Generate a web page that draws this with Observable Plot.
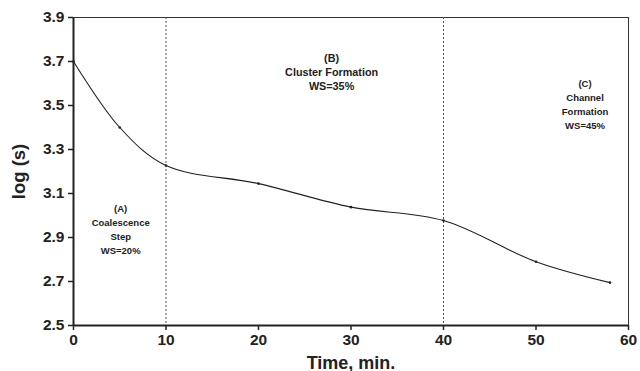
<!DOCTYPE html>
<html><head><meta charset="utf-8">
<script src="https://cdn.jsdelivr.net/npm/d3@7"></script>
<script src="https://cdn.jsdelivr.net/npm/@observablehq/plot@0.6"></script>
<style>body{margin:0;background:#fff} svg{display:block}</style>
</head><body><div id="chart"></div>
<script>
const times = [0, 5, 10, 20, 30, 40, 50, 58];
const logS = [3.70, 3.40, 3.227, 3.145, 3.038, 2.977, 2.79, 2.695];
const phaseBoundaries = [10, 40];
const xTicks = [0, 10, 20, 30, 40, 50, 60];
const yTicks = [2.5, 2.7, 2.9, 3.1, 3.3, 3.5, 3.7, 3.9];
const stageLabels = ["(A)\nCoalescence\nStep\nWS=20%", "(B)\nCluster Formation\nWS=35%", "(C)\nChannel\nFormation\nWS=45%"];
const stageTime = [5.1, 27.9, 55.3];
const stageLogS = [2.94, 3.655, 3.51];

const data = times.map((t, i) => ({t, v: logS[i]}));
const stages = stageLabels.map((s, i) => ({s, t: stageTime[i], v: stageLogS[i], big: i === 1}));
const font = "'Liberation Sans', Arial, Helvetica, sans-serif";

const chart = Plot.plot({
  width: 640, height: 371,
  marginLeft: 73, marginRight: 12, marginTop: 17, marginBottom: 46,
  style: {fontFamily: font, fontSize: "15.5px", fontWeight: "bold", color: "#222", background: "#fff"},
  x: {domain: [0, 60], ticks: xTicks},
  y: {domain: [2.5, 3.9], ticks: yTicks},
  marks: [
    Plot.frame({stroke: "#333", strokeWidth: 1}),
    Plot.ruleX(phaseBoundaries, {stroke: "#555", strokeWidth: 1, strokeDasharray: "2,2"}),
    Plot.axisX({ticks: xTicks, tickSize: 5, tickPadding: 3, tickFormat: d => d, label: null, strokeWidth: 1.5}),
    Plot.axisY({ticks: yTicks, tickSize: 5, tickPadding: 4, tickFormat: d => d.toFixed(1), label: null, strokeWidth: 1.5}),
    Plot.ruleX([0], {stroke: "#222", strokeWidth: 2}),
    Plot.ruleY([2.5], {stroke: "#222", strokeWidth: 2}),
    Plot.line(data, {x: "t", y: "v", curve: "catmull-rom", stroke: "#222", strokeWidth: 1.1}),
    Plot.dot(data, {x: "t", y: "v", r: 1.3, fill: "#222", stroke: "none"}),
    Plot.text(stages.filter(d => !d.big), {x: "t", y: "v", text: "s", fontSize: 9.5, fontWeight: "bold", lineHeight: 1.47, fill: "#222"}),
    Plot.text(stages.filter(d => d.big), {x: "t", y: "v", text: "s", fontSize: 10.8, fontWeight: "bold", lineHeight: 1.3, fill: "#222"}),
    Plot.text(["log (s)"], {frameAnchor: "left", textAnchor: "middle", dx: -54, rotate: -90, fontSize: 18.5, fontWeight: "bold", fill: "#222"}),
    Plot.text(["Time, min."], {frameAnchor: "bottom", textAnchor: "middle", dy: 43, fontSize: 18, fontWeight: "bold", fill: "#222"})
  ]
});
document.getElementById("chart").appendChild(chart);
</script>
</body></html>
